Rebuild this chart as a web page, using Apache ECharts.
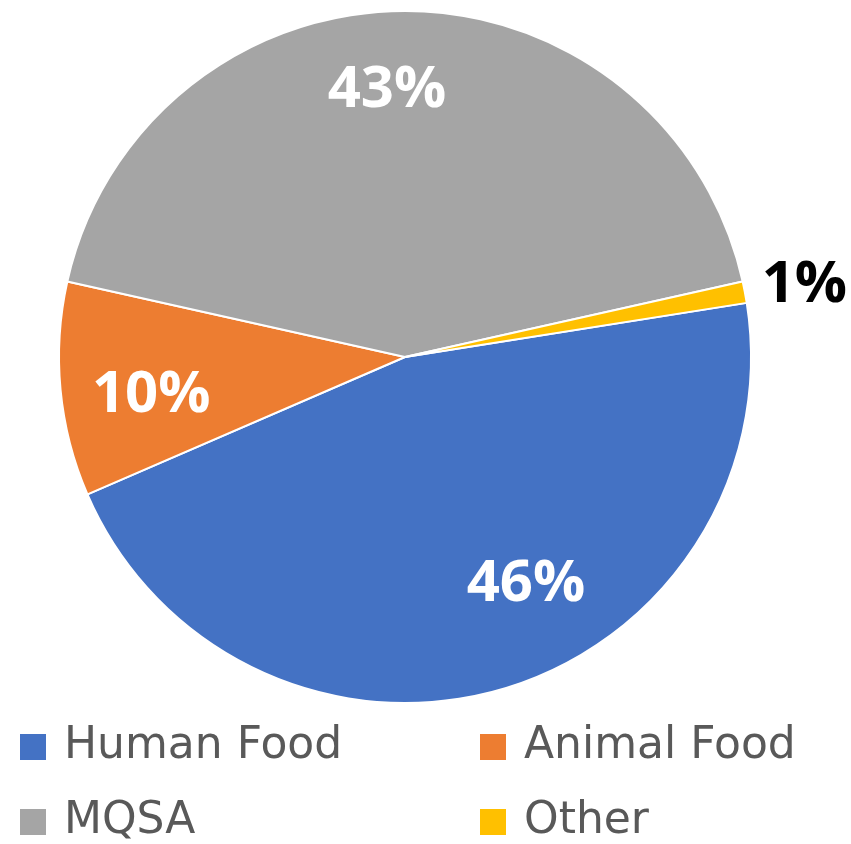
<!DOCTYPE html>
<html>
<head>
<meta charset="utf-8">
<script src="https://cdn.jsdelivr.net/npm/echarts@6/dist/echarts.min.js"></script>
<style>
  html, body { margin: 0; padding: 0; background: #fff; }
  #chart { width: 851px; height: 844px; }
</style>
</head>
<body>
<div id="chart"></div>
<script>
// pie data
var categories = ['Human Food', 'Animal Food', 'MQSA', 'Other'];
var shares = [46, 10, 43, 1];
var colors = ['#4472C4', '#ED7D31', '#A5A5A5', '#FFC000'];

var myChart = echarts.init(document.getElementById('chart'));

var R = 346;
var center = [405, 357];

var legendText = {
    fontFamily: 'DejaVu Sans',
    fontSize: 44,
    lineHeight: 44,
    color: '#595959',
    padding: [0, 0, 0, 12]
};

// small nudges of the percentage labels (Excel best-fit placement)
var labelNudge = [[47, -27], [10, 14], [-18, -2], [0, -4]];

var option = {
    animation: false,
    color: colors,
    legend: [{
        data: [categories[0], categories[2]],
        orient: 'vertical',
        left: 18,
        top: 725,
        padding: 0,
        icon: 'rect',
        itemWidth: 28,
        itemHeight: 28,
        itemGap: 31,
        textStyle: legendText
    }, {
        data: [categories[1], categories[3]],
        orient: 'vertical',
        left: 478,
        top: 725,
        padding: 0,
        icon: 'rect',
        itemWidth: 28,
        itemHeight: 28,
        itemGap: 31,
        textStyle: legendText
    }],
    series: [{
        // the pie itself
        type: 'pie',
        center: center,
        radius: R,
        startAngle: 9,
        label: { show: false },
        labelLine: { show: false },
        emphasis: { disabled: true },
        itemStyle: { borderColor: '#fff', borderWidth: 2 },
        data: categories.map(function (c, i) {
            return { name: c, value: shares[i] };
        })
    }, {
        // transparent ring, only used to place the percentage labels
        type: 'pie',
        center: center,
        radius: [178, R],
        startAngle: 9,
        silent: true,
        emphasis: { disabled: true },
        avoidLabelOverlap: false,
        itemStyle: { color: 'rgba(0,0,0,0)', borderWidth: 0 },
        label: {
            show: true,
            position: 'inside',
            formatter: '{d}%',
            fontFamily: 'Open Sans',
            fontWeight: 'bold',
            fontSize: 58,
            color: '#fff'
        },
        labelLine: { show: false, length: 12, length2: 0 },
        labelLayout: function (p) {
            var n = labelNudge[p.dataIndex];
            return { dx: n[0], dy: n[1] };
        },
        data: shares.map(function (v, i) {
            var d = { value: v };
            if (i === 3) {
                d.label = { position: 'outside', color: '#000' };
            }
            return d;
        })
    }]
};

myChart.setOption(option);
</script>
</body>
</html>
